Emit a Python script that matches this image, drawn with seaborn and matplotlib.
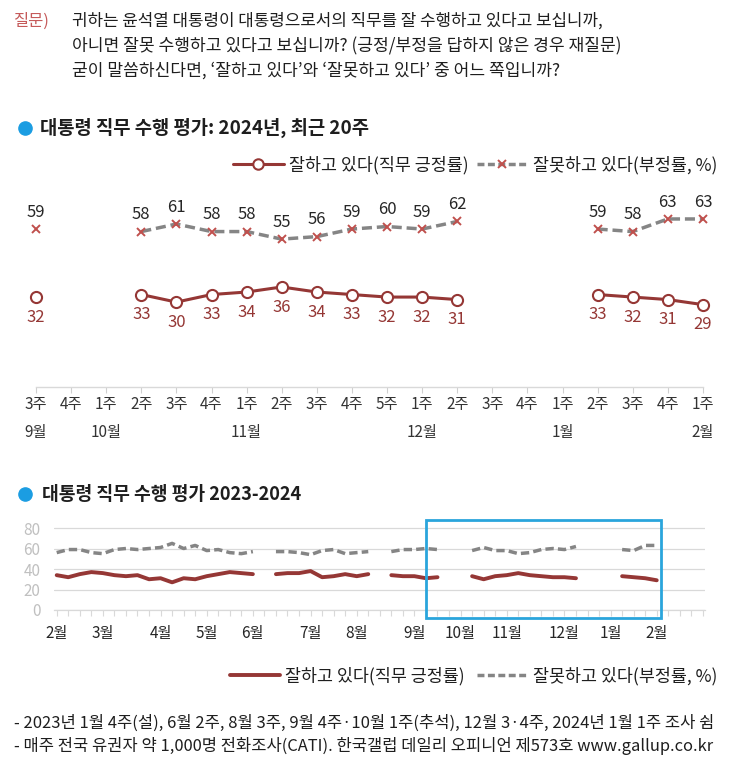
import numpy as np
import pandas as pd
import matplotlib
matplotlib.use("Agg")
import matplotlib.pyplot as plt
import seaborn as sns
from matplotlib.lines import Line2D
from matplotlib.patches import Rectangle

sns.set_theme(style="white")
plt.rcParams["font.family"] = ["Noto Sans CJK KR", "DejaVu Sans"]
plt.rcParams["axes.unicode_minus"] = False

nan = np.nan

# ---------------- data ----------------
# weekly, 2023-02 1주 ... 2024-02 1주 (NaN = 조사 쉼)
approve = [34, 32, 35, 37, 36, 34, 33, 34, 30, 31, 27, 31, 30, 33, 35, 37, 36, 35, nan,
           35, 36, 36, 38, 32, 33, 35, 33, 35, nan,
           34, 33, 33, 31, 32, nan, nan,
           33, 30, 33, 34, 36, 34, 33, 32, 32, 31, nan, nan, nan,
           33, 32, 31, 29]
disapprove = [56, 59, 59, 56, 55, 59, 60, 59, 60, 61, 65, 60, 63, 58, 59, 56, 55, 57, nan,
              57, 57, 56, 54, 58, 59, 55, 56, 57, nan,
              57, 59, 59, 60, 59, nan, nan,
              58, 61, 58, 58, 55, 56, 59, 60, 59, 62, nan, nan, nan,
              59, 58, 63, 63]
months_all = ["2월", "3월", "4월", "5월", "6월", "7월", "8월", "9월", "10월", "11월", "12월", "1월", "2월"]
weeks_in_month = [4, 5, 4, 4, 5, 4, 5, 4, 4, 5, 4, 4, 5]

recent_approve = approve[33:]
recent_disapprove = disapprove[33:]
recent_weeks = ["3주", "4주", "1주", "2주", "3주", "4주", "1주", "2주", "3주", "4주",
                "5주", "1주", "2주", "3주", "4주", "1주", "2주", "3주", "4주", "1주"]
recent_months = ["9월", "", "10월", "", "", "", "11월", "", "", "", "", "12월", "", "", "", "1월", "", "", "", "2월"]

label_pos = "잘하고 있다(직무 긍정률)"
label_neg = "잘못하고 있다(부정률, %)"

# ---------------- styles ----------------
W, H = 730, 768
RED = "#953735"
GRAY = "#858585"
XRED = "#C0504D"
BLUE = "#1B9DE2"
TXT = "#1E1E1E"

fig = plt.figure(figsize=(W / 100, H / 100), dpi=100)
fig.patch.set_facecolor("white")
renderer = fig.canvas.get_renderer()


def fx(px):
    return px / W


def fy(py):
    return 1 - py / H


def fit_text(x, y, s, width, **kw):
    t = fig.text(fx(x), fy(y), s, ha="left", va="center", fontsize=12, **kw)
    w = t.get_window_extent(renderer).width
    t.set_fontsize(12 * width / w)
    return t


def to_frame(vals):
    seg, cur, prev = [], 0, False
    for v in vals:
        ok = not np.isnan(v)
        if ok and not prev:
            cur += 1
        seg.append(cur)
        prev = ok
    df = pd.DataFrame({"x": np.arange(len(vals)), "y": vals, "seg": seg})
    return df.dropna()


# ---------------- header ----------------
fit_text(14, 21, "질문)", 36, color="#C55A5A")
fit_text(72, 21, "귀하는 윤석열 대통령이 대통령으로서의 직무를 잘 수행하고 있다고 보십니까,", 534, color=TXT)
fit_text(72, 46, "아니면 잘못 수행하고 있다고 보십니까? (긍정/부정을 답하지 않은 경우 재질문)", 551, color=TXT)
fit_text(72, 71, "굳이 말씀하신다면, ‘잘하고 있다’와 ‘잘못하고 있다’ 중 어느 쪽입니까?", 487, color=TXT)

fig.add_artist(Line2D([fx(25)], [fy(128)], marker="o", ms=9.5, color=BLUE, lw=0, transform=fig.transFigure))
fit_text(40, 128, "대통령 직무 수행 평가: 2024년, 최근 20주", 330, color=TXT, fontweight="bold")

# ---------------- top chart ----------------
ax1 = fig.add_axes([fx(18.45), fy(387), fx(702), 197 / H])
ax1.set_xlim(-0.5, 19.5)
ax1.set_ylim(-3.7, 74.5)

sns.lineplot(data=to_frame(recent_disapprove), x="x", y="y", units="seg", estimator=None,
             ax=ax1, legend=False, color=GRAY, lw=2.5, linestyle=(0, (2.9, 1.4)),
             marker="x", markersize=6, markeredgecolor=XRED, markeredgewidth=1.4)
sns.lineplot(data=to_frame(recent_approve), x="x", y="y", units="seg", estimator=None,
             ax=ax1, legend=False, color=RED, lw=2.2,
             marker="o", markersize=8, markerfacecolor="white", markeredgecolor=RED, markeredgewidth=1.5)

for i, v in enumerate(recent_disapprove):
    if not np.isnan(v):
        ax1.annotate(f"{v:.0f}", (i, v), xytext=(0, 12), textcoords="offset points",
                     ha="center", va="center", fontsize=12, color="#262626")
for i, v in enumerate(recent_approve):
    if not np.isnan(v):
        ax1.annotate(f"{v:.0f}", (i, v), xytext=(0, -14.5), textcoords="offset points",
                     ha="center", va="center", fontsize=12, color=RED)
for i, m in enumerate(recent_months):
    if m:
        ax1.annotate(m, xy=(i, 0), xycoords=("data", "axes fraction"), xytext=(0, -32.4),
                     textcoords="offset points", ha="center", va="center", fontsize=11, color="#333333")

for s in ["left", "right", "top"]:
    ax1.spines[s].set_visible(False)
ax1.spines["bottom"].set_color("#D9D9D9")
ax1.spines["bottom"].set_linewidth(1)
ax1.spines["bottom"].set_bounds(0, 19)
ax1.set_xticks(range(len(recent_weeks)))
ax1.set_xticklabels(recent_weeks)
ax1.tick_params(axis="x", length=4, width=0.8, color="#D0D0D0", labelsize=11, pad=2.5,
                labelcolor="#333333", bottom=True)
ax1.set_yticks([])
ax1.set_xlabel("")
ax1.set_ylabel("")
ax1.patch.set_alpha(0)

leg1 = fig.legend(
    [Line2D([], [], color=RED, lw=2.2, marker="o", ms=7.5, mfc="white", mec=RED, mew=1.5),
     Line2D([], [], color=GRAY, lw=2.5, linestyle=(0, (2.0, 1.0)), marker="x", ms=6, mec=XRED, mew=1.4)],
    [label_pos, label_neg], loc="center right", bbox_to_anchor=(fx(717), fy(165)), ncol=2,
    frameon=False, fontsize=12.5, handlelength=2.9, handletextpad=0.3, columnspacing=0.5,
    borderpad=0, borderaxespad=0)
for t in leg1.get_texts():
    t.set_color(TXT)

# ---------------- bottom chart ----------------
fig.add_artist(Line2D([fx(25)], [fy(494)], marker="o", ms=9.5, color=BLUE, lw=0, transform=fig.transFigure))
fit_text(42, 494, "대통령 직무 수행 평가 2023-2024", 261, color=TXT, fontweight="bold")

ax2 = fig.add_axes([fx(54.4), fy(610), fx(650.8), 87.1 / H])
ax2.set_xlim(-0.2, 56.2)
ax2.set_ylim(0, 85)
ax2.set_yticks([0, 20, 40, 60, 80])
ax2.yaxis.grid(True, color="#D9D9D9", lw=0.9)
ax2.set_axisbelow(True)

sns.lineplot(data=to_frame(disapprove), x="x", y="y", units="seg", estimator=None, ax=ax2,
             legend=False, color=GRAY, lw=2.5, linestyle=(0, (2.4, 1.2)))
sns.lineplot(data=to_frame(approve), x="x", y="y", units="seg", estimator=None, ax=ax2,
             legend=False, color=RED, lw=2.8)

tick_labels = []
for m, n in zip(months_all, weeks_in_month):
    tick_labels += [m] + [""] * (n - 1)
ax2.set_xticks(range(len(tick_labels)))
ax2.set_xticklabels(tick_labels)
ax2.tick_params(axis="x", length=4, width=0.8, color="#D9D9D9", labelsize=11, pad=6.5,
                labelcolor="#262626", bottom=True)
ax2.tick_params(axis="y", length=0, labelsize=11, pad=10, labelcolor="#C0C0C0")
for s in ["left", "right", "top"]:
    ax2.spines[s].set_visible(False)
ax2.spines["bottom"].set_color("#D9D9D9")
ax2.spines["bottom"].set_linewidth(0.9)
ax2.set_xlabel("")
ax2.set_ylabel("")
ax2.patch.set_alpha(0)

ax2.add_patch(Rectangle((32.0, -7.8), 20.4, 95.8, fill=False, ec="#2AA5DC", lw=2.0,
                        clip_on=False, zorder=5))

leg2 = fig.legend(
    [Line2D([], [], color=RED, lw=2.8),
     Line2D([], [], color=GRAY, lw=2.5, linestyle=(0, (2.0, 1.0)))],
    [label_pos, label_neg], loc="center right", bbox_to_anchor=(fx(717), fy(676)), ncol=2,
    frameon=False, fontsize=12.5, handlelength=2.9, handletextpad=0.3, columnspacing=0.7,
    borderpad=0, borderaxespad=0)
for t in leg2.get_texts():
    t.set_color(TXT)

# ---------------- footer ----------------
fit_text(14, 723, "- 2023년 1월 4주(설), 6월 2주, 8월 3주, 9월 4주·10월 1주(추석), 12월 3·4주, 2024년 1월 1주 조사 쉼",
         700, color=TXT)
fit_text(14, 746, "- 매주 전국 유권자 약 1,000명 전화조사(CATI). 한국갤럽 데일리 오피니언 제573호 www.gallup.co.kr",
         700, color=TXT)

fig.savefig("out.png", dpi=100, facecolor="white")
